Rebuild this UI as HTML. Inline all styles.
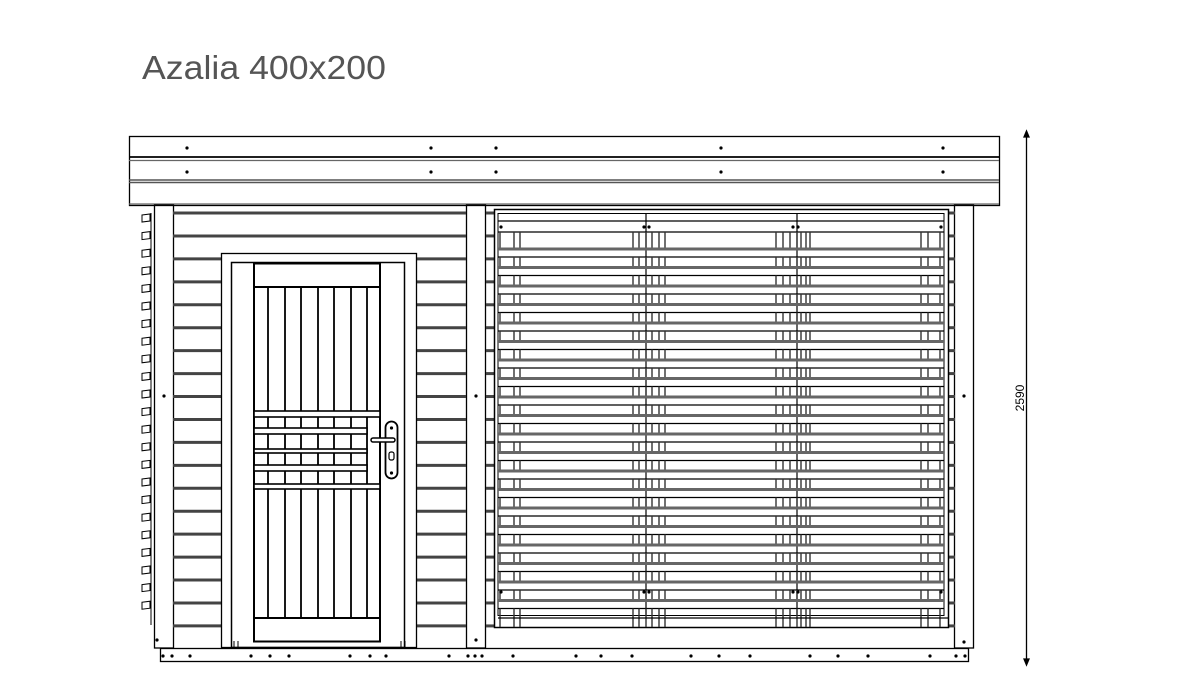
<!DOCTYPE html>
<html><head><meta charset="utf-8"><style>
html,body{margin:0;padding:0;background:#fff;width:1182px;height:692px;overflow:hidden}
svg{display:block}
</style></head><body>
<svg id="s" width="1182" height="692" viewBox="0 0 1182 692" xmlns="http://www.w3.org/2000/svg" fill="none" stroke="#000" stroke-width="1.3">
<text x="142" y="79" font-family="Liberation Sans, sans-serif" font-size="33" fill="#555" stroke="none" textLength="244" lengthAdjust="spacingAndGlyphs">Azalia  400x200</text>
<!-- roof -->
<rect x="129.5" y="136.5" width="870" height="69"/>
<line x1="129" y1="157" x2="999" y2="157" stroke-width="1.8"/>
<line x1="129" y1="160.5" x2="999" y2="160.5" stroke="#666"/>
<line x1="129" y1="180" x2="999" y2="180" stroke="#555" stroke-width="1.4"/>
<line x1="129" y1="182.5" x2="999" y2="182.5" stroke="#555" stroke-width="1.4"/>
<line x1="129" y1="204" x2="999" y2="204" stroke="#666"/>
<g id="g"></g>
<!-- dimension -->
<line x1="1026.5" y1="134" x2="1026.5" y2="662"/>
<path d="M1024 137 L1026.5 131 L1029 137 Z M1024 659 L1026.5 665 L1029 659 Z" fill="#000"/>
<text transform="translate(1024,398) rotate(-90)" text-anchor="middle" font-family="Liberation Sans, sans-serif" font-size="12" fill="#000" stroke="none">2590</text>
</svg>
<script>
var g=document.getElementById('g'),o='';
function L(x1,y1,x2,y2,c,w){o+='<line x1="'+x1+'" y1="'+y1+'" x2="'+x2+'" y2="'+y2+'" stroke="'+(c||'#000')+'" stroke-width="'+(w||1.3)+'"/>';}
function R(x,y,w,h,sw,f){o+='<rect x="'+x+'" y="'+y+'" width="'+w+'" height="'+h+'" stroke-width="'+(sw||1.3)+'" fill="'+(f||'none')+'"/>';}
function D(x,y){o+='<circle cx="'+x+'" cy="'+y+'" r="1.6" fill="#000" stroke="none"/>';}
[187,431,496,721,943].forEach(function(x){D(x,148);D(x,172);});
R(154.5,205,19,443);R(466.5,205,19,443);R(954.5,205,19,443);
D(164,396);D(476,396);D(964,396);D(157,640);D(476,640);D(964,642);
for(var y=215;y<=605;y+=17.6){o+='<path d="M142 '+y+' L150 '+(y-1)+' L150 '+(y+6)+' L142 '+(y+7)+' Z" stroke-width="1"/>';}
L(151,213,151,625,'#000',1);
for(var i=0;i<19;i++){var y=213+i*22.94;
 L(173,y,466,y,'#444',3);
 L(486,y,494,y,'#444',3);L(948,y,955,y,'#444',3);}
R(221.5,253.5,195,394,1.3,'#fff');R(231.5,262.5,173,385,1.5);
R(254,263.5,126,378,2);
L(254,287,380,287,'#000',2);L(254,618,380,618,'#000',2);
[268,285,301,318,334,351,367].forEach(function(x){L(x,287,x,618,'#000',1.8);});
[[411,417,380],[428,434,367],[449,453,367],[465,471,367],[484,489,380]].forEach(function(b){
 o+='<rect x="254" y="'+b[0]+'" width="'+(b[2]-254)+'" height="'+(b[1]-b[0])+'" fill="#fff" stroke-width="1.6"/>';});
o+='<rect x="385.5" y="421.5" width="12" height="57" rx="6" stroke-width="1.8" fill="#fff"/>';
o+='<rect x="371" y="438" width="24" height="4" rx="2" stroke-width="1.5" fill="#fff"/>';
o+='<rect x="389" y="452" width="5" height="8" rx="2" stroke-width="1.2"/>';
D(391.5,428);D(391.5,473);
L(234,641,234,648,'#000',1);L(238,641,238,648,'#000',1);L(401,641,401,648,'#000',1);L(405,641,405,648,'#000',1);
R(494.5,209.5,454,418,1.5);R(498,213.5,446,402,1);
L(498,221,944,221);L(498,232,944,232);
var ticks=[500,514,520,633,639,646,652,659,665,776,783,790,797,801,806,810,921,928,940];
L(646,213,646,615,'#000',1.2);L(797,213,797,615,'#000',1.2);
var prev=232;
for(var i=0;i<20;i++){var y=249+i*18.5;
 ticks.forEach(function(x){L(x,prev,x,y,'#333',1.4);});
 L(498,y,944,y,'#666',3);L(498,y+8,944,y+8,'#000',1.2);prev=y+8;}
ticks.forEach(function(x){L(x,prev,x,627,'#333',1.4);});
L(498,618,948,618);
D(501,227);D(644,227);D(649,227);D(793,227);D(798,227);D(941,227);
D(501,592);D(644,592);D(649,592);D(793,592);D(798,592);D(941,592);
R(160.5,648.5,808,13,1.3);
[163,172,190,251,270,289,350,370,386,449,468,475,482,513,576,601,632,691,719,750,810,838,868,930,956,965].forEach(function(x){D(x,656);});
g.innerHTML=o;
</script>
</body></html>
